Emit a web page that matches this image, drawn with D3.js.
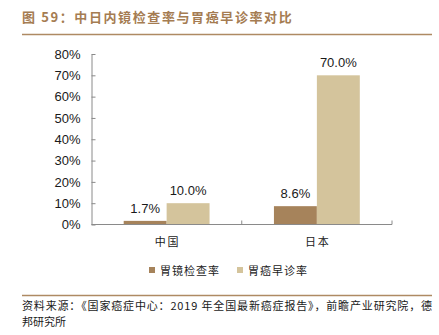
<!DOCTYPE html>
<html><head><meta charset="utf-8">
<script src="https://cdn.jsdelivr.net/npm/d3@7/dist/d3.min.js"></script>
<style>
body{margin:0;background:#fff;}
svg{display:block;}
</style></head>
<body><svg id="c" width="439" height="335"></svg>
<script>
const categories = ["中国", "日本"];
const seriesNames = ["胃镜检查率", "胃癌早诊率"];
const endoscopyRate = [1.7, 8.6];
const earlyDiagnosisRate = [10.0, 70.0];
const yTicks = [0, 10, 20, 30, 40, 50, 60, 70, 80];
const title = "图 59：中日内镜检查率与胃癌早诊率对比";
const sourceLines = ["资料来源：《国家癌症中心：2019 年全国最新癌症报告》，前瞻产业研究院，德", "邦研究所"];
const colors = ["#a6835b", "#d4c49c"];

const svg = d3.select("#c");
const cjk = "'Noto Sans CJK SC', sans-serif";
const latin = "'Liberation Sans', Arial, sans-serif";
const accent = "#ae8a63";

// title
svg.append("text").attr("x", 22).attr("y", 22).text(title)
  .attr("font-family", cjk).attr("font-weight", "bold").attr("font-size", 13)
  .attr("letter-spacing", 1.6).attr("fill", "#a57c52");
svg.append("line").attr("x1", 22).attr("x2", 432).attr("y1", 34.5).attr("y2", 34.5)
  .attr("stroke", accent).attr("stroke-width", 1.5);

const plotLeft = 91.5, plotRight = 392, plotTop = 54, plotBottom = 224.5;
const y = d3.scaleLinear().domain([0, 80]).range([plotBottom, plotTop]);
const x0 = d3.scaleBand().domain(categories).range([plotLeft, plotRight]).padding(0);
const x1 = d3.scaleBand().domain(seriesNames).range([0, x0.bandwidth()]).paddingInner(0).paddingOuter(0.75);

const data = categories.map((c, i) => ({cat: c, vals: [endoscopyRate[i], earlyDiagnosisRate[i]]}));

// bars
const g = svg.append("g");
data.forEach(d => {
  d.vals.forEach((v, j) => {
    g.append("rect")
      .attr("x", x0(d.cat) + x1(seriesNames[j]))
      .attr("y", y(v))
      .attr("width", x1.bandwidth())
      .attr("height", y(0) - y(v))
      .attr("fill", colors[j]);
    g.append("text")
      .attr("x", x0(d.cat) + x1(seriesNames[j]) + x1.bandwidth() / 2)
      .attr("y", y(v) - 8)
      .attr("text-anchor", "middle")
      .attr("font-family", latin).attr("font-size", 13).attr("fill", "#1a1a1a")
      .text(v.toFixed(1) + "%");
  });
});

// y axis
const yAxis = d3.axisLeft(y).tickValues(yTicks).tickFormat(d => d + "%")
  .tickSizeInner(-4).tickSizeOuter(0).tickPadding(11);
const ya = svg.append("g").attr("transform", `translate(${plotLeft},0)`).call(yAxis);
ya.selectAll("path,line").attr("stroke", "#8a8a8a");
ya.selectAll("text").attr("font-family", latin).attr("font-size", 13).attr("fill", "#1a1a1a");

// x axis
const xa = svg.append("g");
xa.append("line").attr("x1", plotLeft).attr("x2", plotRight).attr("y1", plotBottom).attr("y2", plotBottom).attr("stroke", "#8a8a8a");
categories.forEach(c => {
  const xe = x0(c) + x0.bandwidth();
  xa.append("line").attr("x1", xe).attr("x2", xe).attr("y1", plotBottom).attr("y2", plotBottom - 4).attr("stroke", "#8a8a8a");
  xa.append("text").attr("x", x0(c) + x0.bandwidth() / 2 + 1).attr("y", plotBottom + 21)
    .attr("text-anchor", "middle").attr("font-family", cjk).attr("font-size", 11)
    .attr("letter-spacing", 2).attr("fill", "#1a1a1a").text(c);
});

// legend
const legendX = [149, 237];
seriesNames.forEach((s, j) => {
  svg.append("rect").attr("x", legendX[j]).attr("y", 267).attr("width", 6).attr("height", 6).attr("fill", colors[j]);
  svg.append("text").attr("x", legendX[j] + 11).attr("y", 274.5)
    .attr("font-family", cjk).attr("font-size", 11).attr("letter-spacing", 1)
    .attr("fill", "#1a1a1a").text(s);
});

// source
svg.append("line").attr("x1", 22).attr("x2", 432).attr("y1", 295.5).attr("y2", 295.5)
  .attr("stroke", accent).attr("stroke-width", 1.5);
sourceLines.forEach((t, i) => {
  const tx = svg.append("text").attr("x", 22).attr("y", 310 + i * 16)
    .attr("font-family", cjk).attr("font-size", 11).attr("fill", "#1a1a1a")
    .text(t);
  if (i === 0) tx.attr("textLength", 410).attr("lengthAdjust", "spacing");
});
</script></body></html>
